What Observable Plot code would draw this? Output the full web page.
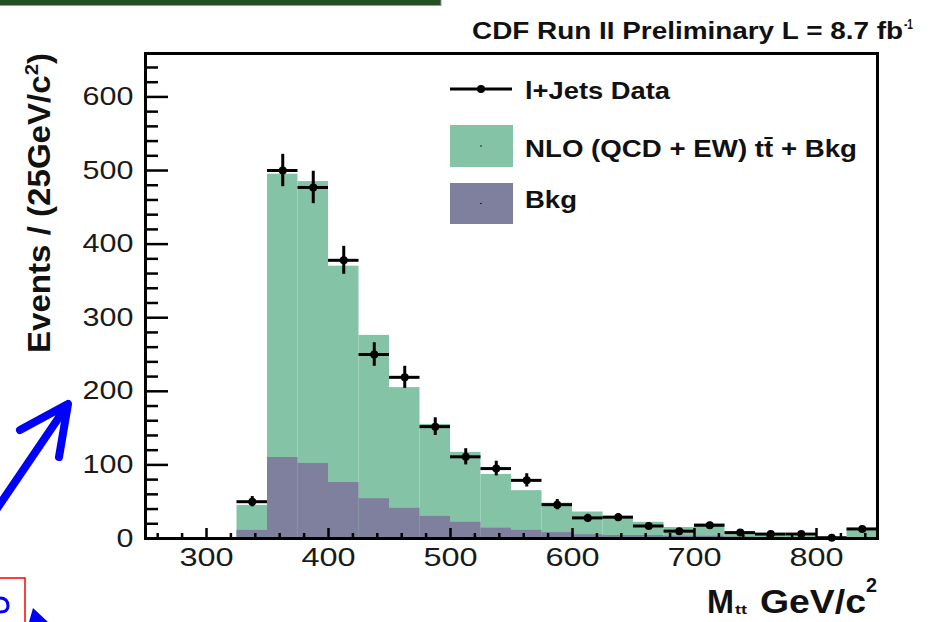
<!DOCTYPE html>
<html><head><meta charset="utf-8">
<script src="https://cdn.jsdelivr.net/npm/d3@7"></script>
<script src="https://cdn.jsdelivr.net/npm/@observablehq/plot@0.6"></script>
<style>
html,body{margin:0;padding:0;background:#fff;}
#chart{position:relative;width:930px;height:622px;overflow:hidden;}
</style></head><body><div id="chart"></div>
<script>
// ---- data ----
const binLow = [325,350,375,400,425,450,475,500,525,550,575,600,625,650,675,700,725,750,775,800,825];
const binWidth = 25;
const dataCounts = [50,500,477,378,250,219,152,111,95,79,46,28,29,17,10,18,8,6,6,1,13];
const dataErr    = [7,22,22,19,16,15,12,11,10,9,7,5,5,4,3,4,3,2,2,1,4];
const totalPred  = [45,495,485,370,276,205,155,117,87,65,48,36,30,22,15,20,7,4,3,2,12];
const bkgPred    = [11,110,102,76,54,41,30,22,14,11,8,5,4,4,3,3,2,1,1,1,1];
const xTicks = [300,400,500,600,700,800];
const yTicks = [0,100,200,300,400,500,600];
const xMinor = [260,280,320,340,360,380,420,440,460,480,520,540,560,580,620,640,660,680,720,740,760,780,820,840];
const yMinor = [20,40,60,80,120,140,160,180,220,240,260,280,320,340,360,380,420,440,460,480,520,540,560,580,620,640];

const rows = binLow.map((lo,i)=>({lo, hi: lo+binWidth, mid: lo+binWidth/2,
  n: dataCounts[i], e: dataErr[i], tot: totalPred[i], bkg: bkgPred[i]}));

const W=930,H=622,mL=145,mR=53,mT=53,mB=84;
const fw=W-mL-mR, fh=H-mT-mB;
const GREEN="#84c3a5", PURPLE="#7f7f9e";
const FONT="'Liberation Sans', Arial, Helvetica, sans-serif";

const plot = Plot.plot({
  width: W, height: H,
  marginLeft: mL, marginRight: mR, marginTop: mT, marginBottom: mB,
  style: {fontFamily: FONT, fontSize: "25px", color: "#1a1a1a", background: "transparent", overflow: "visible"},
  x: {domain: [250,850]},
  y: {domain: [0,659]},
  marks: [
    Plot.rectY(rows, {x1: "lo", x2: "hi", y: "tot", fill: GREEN}),
    Plot.rectY(rows, {x1: "lo", x2: "hi", y: "bkg", fill: PURPLE}),
    Plot.tickY(yMinor, {y: d=>d, stroke: "black", strokeWidth: 2.5, insetRight: fw-13}),
    Plot.tickY(yTicks, {y: d=>d, stroke: "black", strokeWidth: 2.5, insetRight: fw-23}),
    Plot.tickX(xMinor, {x: d=>d, stroke: "black", strokeWidth: 2.5, insetTop: fh-5}),
    Plot.tickX(xTicks, {x: d=>d, stroke: "black", strokeWidth: 2.5, insetTop: fh-10}),
    Plot.frame({stroke: "black", strokeWidth: 3}),
    Plot.ruleY(rows, {x1: "lo", x2: "hi", y: "n", stroke: "black", strokeWidth: 3}),
    Plot.ruleX(rows, {x: "mid", y1: d=>d.n-d.e, y2: d=>d.n+d.e, stroke: "black", strokeWidth: 3}),
    Plot.dot(rows, {x: "mid", y: "n", r: 4, fill: "black"}),
    Plot.axisY({ticks: yTicks, tickSize: 0, tickPadding: 12, label: null, fontSize: 25}),
    Plot.axisX({ticks: xTicks, tickSize: 0, tickPadding: 10, label: null, fontSize: 25})
  ]
});
document.getElementById("chart").appendChild(plot);
const svg = d3.select(plot);

// stretch tick labels horizontally like the reference
svg.selectAll("g[aria-label='y-axis tick label'] text").each(function(){
  const n = this.getComputedTextLength(); this.setAttribute("textLength", n*1.22); this.setAttribute("lengthAdjust","spacingAndGlyphs");
});
svg.selectAll("g[aria-label='x-axis tick label'] text").each(function(){
  const n = this.getComputedTextLength(); this.setAttribute("textLength", n*1.3); this.setAttribute("lengthAdjust","spacingAndGlyphs");
});

function txt(x,y,s,{size=24,weight="bold",anchor="start",len=null,rotate=0,fill="#111"}={}){
  const t = svg.append("text").attr("x",x).attr("y",y).attr("font-size",size).attr("font-weight",weight)
    .attr("font-family",FONT).attr("text-anchor",anchor).attr("fill",fill).text(s);
  if (rotate) t.attr("transform",`rotate(${rotate},${x},${y})`);
  if (len) t.attr("textLength",len).attr("lengthAdjust","spacingAndGlyphs");
  return t;
}

// title
txt(472,39,"CDF Run II Preliminary L = 8.7 fb",{size:24,len:431});
txt(904,29,"-1",{size:14,len:9});

// legend
svg.append("line").attr("x1",450).attr("x2",512).attr("y1",89).attr("y2",89).attr("stroke","black").attr("stroke-width",3);
svg.append("circle").attr("cx",481).attr("cy",89).attr("r",4).attr("fill","black");
txt(525,99,"l+Jets Data",{size:24.5,len:145});
svg.append("rect").attr("x",450).attr("y",125).attr("width",63).attr("height",42).attr("fill",GREEN);
svg.append("rect").attr("x",480).attr("y",145.5).attr("width",2).attr("height",1).attr("fill","#222");
txt(525,157,"NLO (QCD + EW) tt\u0304 + Bkg",{size:24.5,len:332});
svg.append("rect").attr("x",450).attr("y",183).attr("width",63).attr("height",41).attr("fill",PURPLE);
svg.append("rect").attr("x",480).attr("y",203).attr("width",2).attr("height",1).attr("fill","#222");
txt(525,208,"Bkg",{size:24.5,len:52});

// y-axis title (rotated)
const yl = svg.append("text").attr("transform","translate(50,53) rotate(-90)")
  .attr("text-anchor","end").attr("font-size",31).attr("font-weight","bold").attr("font-family",FONT).attr("fill","#111");
yl.append("tspan").text("Events / (25GeV/c");
yl.append("tspan").attr("font-size",19).attr("dy",-12).text("2");
yl.append("tspan").attr("dy",12).text(")");
yl.attr("textLength",300).attr("lengthAdjust","spacingAndGlyphs");

// x-axis title
txt(707,613,"M",{size:33,len:27});
txt(735,614,"tt",{size:12,len:12});
txt(760,613,"GeV/c",{size:33,len:106});
txt(866,592,"2",{size:20,len:11});

// slide decorations around the chart
svg.append("rect").attr("x",0).attr("y",0).attr("width",441).attr("height",5).attr("fill","#244f24");
svg.append("line").attr("x1",0).attr("x2",441).attr("y1",5.5).attr("y2",5.5).attr("stroke","#999").attr("stroke-width",1);
svg.append("line").attr("x1",441).attr("x2",441).attr("y1",0).attr("y2",6).attr("stroke","#999").attr("stroke-width",1);
svg.append("path").attr("d","M-6,513 L66,407 M20,430 L68,404 L59,457")
  .attr("fill","none").attr("stroke","#0000ff").attr("stroke-width",8).attr("stroke-linecap","round").attr("stroke-linejoin","round");
svg.append("rect").attr("x",-2).attr("y",578).attr("width",27).attr("height",60).attr("fill","none").attr("stroke","#ff0000").attr("stroke-width",1.5);
svg.append("path").attr("d","M29,622 L33,608 L48,622 Z").attr("fill","#0000ff");
svg.append("path").attr("d","M0,598 Q8,598 8,606 Q8,612 0,612").attr("fill","none").attr("stroke","#0000ff").attr("stroke-width",3);
</script>
</body></html>
